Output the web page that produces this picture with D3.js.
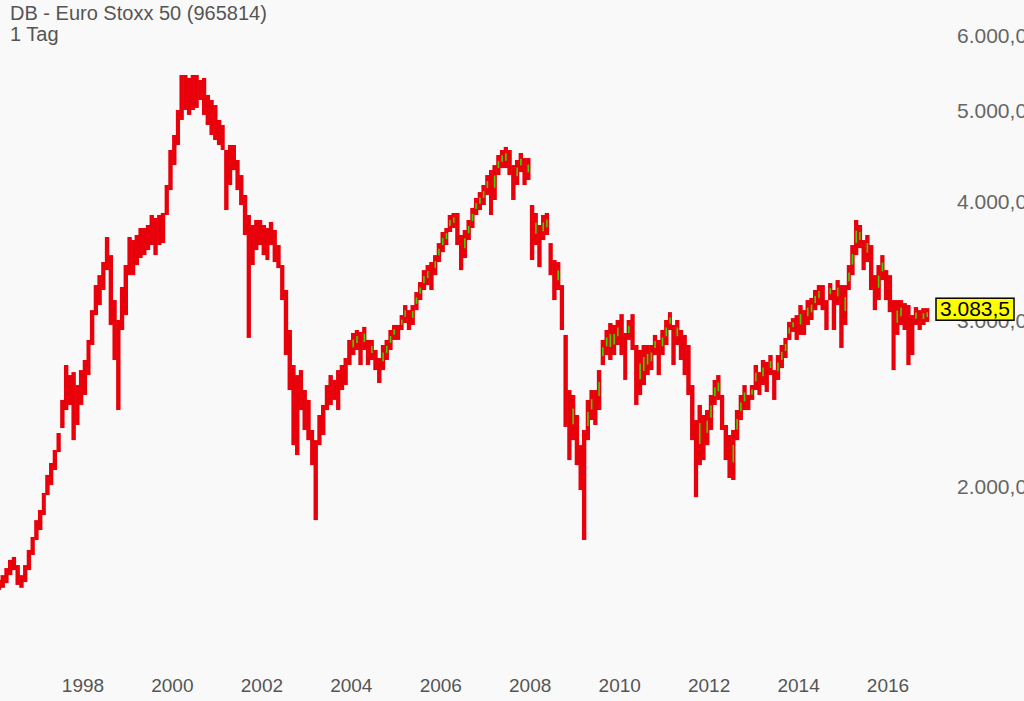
<!DOCTYPE html>
<html>
<head>
<meta charset="utf-8">
<script src="https://cdn.jsdelivr.net/npm/d3@7"></script>
<style>
html,body{margin:0;padding:0;background:#f9f9f9;}
svg{display:block;}
text{font-family:Arial,"Liberation Sans",sans-serif;}
</style>
</head>
<body>
<script>
// Monthly bars starting Feb 1996
const startMonth = "1996-02";
const highs = [
 1594,1613,1641,1674,1686,1653,1613,1653,1715,1770,1844,
 1890,1970,2058,2119,2187,2279,2470,2689,2624,2643,2561,2656,
 2722,2858,3073,3266,3346,3454,3671,3513,3149,3000,3251,3429,
 3671,3644,3689,3752,3752,3780,3873,3845,3873,3892,4166,4536,
 4705,5000,5444,5444,5404,5444,5444,5378,5404,5186,5123,5061,
 4880,4821,4536,4592,4592,4427,4268,4066,3873,3780,3826,3826,
 3780,3752,3808,3734,3600,3429,3227,2928,2689,2624,2656,2530,
 2470,2296,2240,2381,2440,2561,2624,2593,2656,2689,2735,2858,
 2907,2928,2914,2950,2858,2858,2789,2735,2823,2858,2928,2964,
 2964,3036,3111,3073,3111,3211,3290,3387,3429,3454,3513,3617,
 3716,3752,3873,3892,3892,3689,3734,3826,3940,4037,4095,4166,
 4268,4320,4373,4481,4536,4570,4536,4373,4427,4503,4448,4448,
 3968,3892,3780,3873,3892,3617,3471,3454,3266,2893,2530,2500,
 2381,2213,2296,2470,2530,2530,2656,2858,2928,2978,2964,3000,
 3043,2907,3000,3043,2823,2789,2823,2823,2823,2893,2858,2928,
 3000,3058,2964,3000,2928,2893,2823,2561,2352,2440,2381,2410,
 2500,2593,2624,2500,2324,2268,2296,2410,2500,2561,2500,2561,
 2689,2643,2722,2709,2755,2656,2755,2823,2872,2986,3014,3036,
 3111,3073,3149,3165,3227,3266,3266,3149,3282,3227,3306,3266,
 3266,3429,3600,3826,3780,3644,3689,3600,3346,3429,3513,3387,
 3346,3149,3149,3149,3126,3111,3036,3096,3073,3088,3088
];
const lows = [
 1556,1564,1582,1613,1633,1575,1564,1586,1633,1694,1757,
 1800,1867,1960,2008,2083,2176,2307,2410,2440,2240,2324,2440,
 2500,2624,2823,3036,3111,3227,3387,2964,2722,2410,2928,3036,
 3346,3346,3429,3488,3513,3556,3600,3513,3600,3617,3873,4115,
 4373,4592,4880,5000,4940,5000,5025,5123,4940,4821,4705,4648,
 4592,4536,3920,4166,4320,4115,3968,3689,2872,3429,3556,3600,
 3513,3471,3600,3454,3404,3149,2755,2530,2213,2160,2410,2296,
 2240,2108,1844,2213,2268,2410,2440,2470,2410,2530,2561,2689,
 2755,2789,2689,2789,2689,2722,2656,2574,2656,2722,2789,2858,
 2858,2928,2978,2928,2964,3073,3149,3227,3266,3227,3346,3454,
 3538,3600,3716,3752,3600,3387,3488,3644,3752,3873,3920,3968,
 4066,3873,4017,4268,4341,4341,4268,4017,4166,4299,4166,4217,
 3471,3600,3412,3644,3689,3346,3149,3227,2928,2313,2134,2240,
 2108,1984,1757,2240,2352,2324,2410,2689,2755,2722,2755,2823,
 2755,2593,2858,2789,2440,2500,2561,2624,2656,2755,2624,2755,
 2823,2928,2689,2823,2722,2624,2500,2240,1950,2108,2134,2213,
 2296,2440,2470,2296,2134,2043,2033,2240,2352,2410,2410,2470,
 2530,2500,2561,2518,2624,2470,2593,2669,2735,2858,2914,2858,
 2893,2893,2964,3000,3073,3111,3073,2928,3149,2928,3111,2803,
 2964,3227,3346,3513,3573,3387,3454,3227,3073,3149,3306,3149,
 3058,2656,2893,2964,2928,2689,2755,2964,2928,2964,2986
];
const lastValue = 3083.5;
const yTicks = [2000, 3000, 4000, 5000, 6000];
const xTickYears = [1998, 2000, 2002, 2004, 2006, 2008, 2010, 2012, 2014, 2016];
const titleLines = ["DB - Euro Stoxx 50 (965814)", "1 Tag"];

const W = 1024, H = 701;
const svg = d3.select("body").append("svg").attr("width", W).attr("height", H);
svg.append("rect").attr("width", W).attr("height", H).attr("fill", "#f9f9f9");

const parse = d3.timeParse("%Y-%m");
const t0 = parse(startMonth);
const data = highs.map((h, i) => {
  const d = d3.timeMonth.offset(t0, i);
  return {date: d, next: d3.timeMonth.offset(d, 1), high: h, low: lows[i]};
});

const x = d3.scaleTime()
  .domain([new Date(1998, 0, 1), new Date(2016, 0, 1)])
  .range([83, 888]);
const y = d3.scaleLog().domain([1500, 6000]).range([605, 35]);

const deFmt = d3.formatLocale({decimal: ",", thousands: ".", grouping: [3], currency: ["", "€"]}).format(",.1f");

// right axis labels
svg.append("g").selectAll("text").data(yTicks).join("text")
  .attr("x", 957).attr("y", d => y(d)).attr("dy", "0.36em")
  .attr("font-size", 21).attr("fill", "#666").text(d => deFmt(d));

// bottom axis labels
svg.append("g").selectAll("text").data(xTickYears).join("text")
  .attr("x", d => x(new Date(d, 0, 1))).attr("y", 692)
  .attr("text-anchor", "middle").attr("font-size", 19).attr("fill", "#555")
  .text(d => d);

// title
svg.append("g").selectAll("text").data(titleLines).join("text")
  .attr("x", 10).attr("y", (d, i) => 20 + i * 21)
  .attr("font-size", 20).attr("fill", "#555").text(d => d);

// bars
const g = svg.append("g");
g.selectAll("rect.bar").data(data).join("rect").attr("class", "bar")
  .attr("x", d => x(d.date) - 0.3)
  .attr("width", d => x(d.next) - x(d.date) + 0.6)
  .attr("y", d => y(d.high))
  .attr("height", d => Math.max(1, y(d.low) - y(d.high)))
  .attr("fill", "#e8000b");

// green up-marks (month midpoint above previous month's)
const greenStart = new Date(2004, 0, 1);
const ups = data.filter((d, i) => i > 0 && d.date >= greenStart &&
  (d.high + d.low) > (data[i - 1].high + data[i - 1].low));
g.selectAll("rect.up").data(ups).join("rect").attr("class", "up")
  .attr("x", d => x(d.date) + 1.1)
  .attr("width", 1.6)
  .attr("y", d => y(d.high) + 0.3 * (y(d.low) - y(d.high)))
  .attr("height", d => 0.35 * (y(d.low) - y(d.high)))
  .attr("fill", "#3fd400");

// last value label
const ly = y(lastValue);
svg.append("rect").attr("x", 936).attr("y", ly - 10.5).attr("width", 78).attr("height", 22)
  .attr("fill", "#ffff00").attr("stroke", "#000").attr("stroke-width", 1.5);
svg.append("text").attr("x", 975).attr("y", ly).attr("dy", "0.36em")
  .attr("text-anchor", "middle").attr("font-size", 21).attr("fill", "#000")
  .text(deFmt(lastValue));
</script>
</body>
</html>
